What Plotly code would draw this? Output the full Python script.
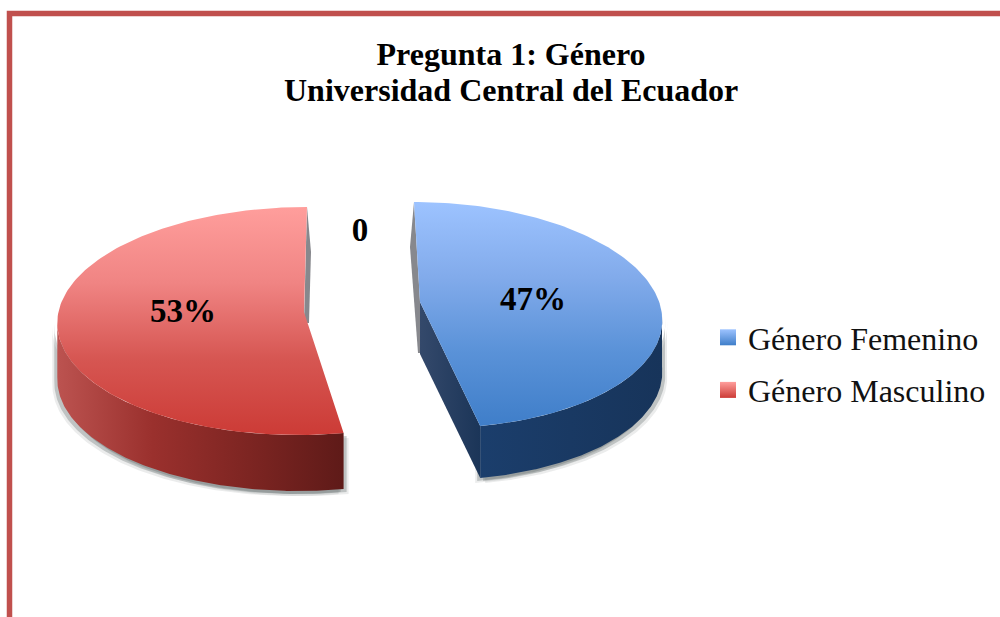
import numpy as np
import plotly.graph_objects as go

TITLE_LINES = ["Pregunta 1: Género", "Universidad Central del Ecuador"]
categories = ["Género Femenino", "Género Masculino"]
values = [47, 53]
zero_label = "0"

FONT = "Liberation Serif"
total = sum(values)
sweeps = [v / total * 2 * np.pi for v in values]

# projection of the tilted, exploded slices
blue = dict(ex=425, ey=315, rx=237, ry=113, sh=-11, apex=(420, 302), depth=52,
            t0=0.0, t1=sweeps[0], back=(-4, 45, -2, 51), back_at=0.0)
red = dict(ex=302.3, ey=321, rx=245, ry=114, sh=4.7, apex=(304, 312), depth=56,
           t0=sweeps[0], t1=sweeps[0] + sweeps[1], back=(4, 45, 5, 11), back_at=2 * np.pi)


def rim(s, a, b, n=160):
    t = np.linspace(a, b, n)
    x = s["ex"] + s["rx"] * np.sin(t) + s["sh"] * np.cos(t)
    y = s["ey"] - s["ry"] * np.cos(t)
    return x, y


def poly(x, y, **kw):
    return go.Scatter(x=list(x), y=list(y), mode="lines", fill="toself",
                      line=dict(width=0), hoverinfo="skip", showlegend=False, **kw)


def grad(kind, start, stop, stops):
    n = len(stops) - 1
    return dict(type=kind, start=start, stop=stop,
                colorscale=[[i / n, c] for i, c in enumerate(stops)])


def slice_traces(s, top, wall, wall_lo, wall_hi, wall_a, wall_b, cut=None):
    out = []
    d = s["depth"]
    ax, ay = s["apex"]
    # soft ground shadow
    wx, wy = rim(s, wall_a, wall_b)
    for dx, dy, alpha in [(-5, 5, .12), (5, 5, .12), (-3, 3, .3), (3, 3, .3)]:
        out.append(poly(np.r_[wx, wx[::-1]] + dx, np.r_[wy, wy[::-1] + d] + dy,
                        fillcolor=f"rgba(90,100,100,{alpha})"))
    # side of the far edge, seen as a grey drop
    sx, sy = rim(s, s["back_at"], s["back_at"], 1)
    dxt, dt, dxb, db = s["back"]
    out.append(poly([sx[0], ax, ax, ax + dxb, sx[0] + dxt],
                    [sy[0], ay, ay + db, ay + db, sy[0] + dt],
                    fillcolor="rgba(70,72,80,.65)"))
    # outer wall
    out.append(poly(np.r_[wx, wx[::-1]], np.r_[wy, wy[::-1] + d],
                    fillgradient=grad("horizontal", wall_lo, wall_hi, wall)))
    # cut face
    if cut:
        ex_, ey_ = rim(s, s["t1"], s["t1"], 1)
        out.append(poly([ax, ex_[0], ex_[0], ax], [ay, ey_[0], ey_[0] + d, ay + d],
                        fillgradient=grad("horizontal", ax, ex_[0], cut)))
    # top face
    tx, ty = rim(s, s["t0"], s["t1"])
    out.append(poly(np.r_[ax, tx, ax], np.r_[ay, ty, ay],
                    fillgradient=grad("vertical", ty.min(), ty.max(), top)))
    return out


fig = go.Figure()
for tr in slice_traces(blue, ["#9DC3FF", "#82ABEB", "#5A92D8", "#3F7EC9"],
                       ["#1B3E6C", "#17345A"], 480, 662,
                       np.pi / 2, sweeps[0],
                       cut=["#34496B", "#1B3558"]):
    fig.add_trace(tr)
for tr in slice_traces(red, ["#FF9E9C", "#F08483", "#D65652", "#CC3B36"],
                       ["#BC5350", "#9A302D", "#7D2522", "#5E1A18"], 57, 345,
                       sweeps[0], 1.5 * np.pi):
    fig.add_trace(tr)

# data labels
for v, pos in [(values[1], (183, 314)), (values[0], (533, 302))]:
    fig.add_trace(go.Scatter(x=[pos[0]], y=[pos[1]], mode="text", text=[f"{v / total:.0%}"],
                             textfont=dict(family=FONT, size=33, color="black"),
                             texttemplate="<b>%{text}</b>", hoverinfo="skip", showlegend=False))
fig.add_trace(go.Scatter(x=[360], y=[233], mode="text", text=[zero_label],
                         textfont=dict(family=FONT, size=33, color="black"),
                         texttemplate="<b>%{text}</b>", hoverinfo="skip", showlegend=False))

# legend
for name, c0, c1 in [(categories[0], "#3F7EC9", "#9DC3FF"), (categories[1], "#CC3B36", "#FF9E9C")]:
    fig.add_trace(go.Scatter(x=[None], y=[None], mode="markers", name=name, legendgroup=name,
                             marker=dict(symbol="square", size=16, color=c1,
                                         gradient=dict(type="vertical", color=c0))))

fig.update_layout(
    width=1000, height=617, margin=dict(l=0, r=0, t=0, b=0),
    paper_bgcolor="white", plot_bgcolor="white",
    xaxis=dict(range=[0, 1000], visible=False, fixedrange=True),
    yaxis=dict(range=[617, 0], visible=False, fixedrange=True),
    title=dict(text="<b>" + TITLE_LINES[0] + "</b>", x=0.511, xanchor="center",
               y=1 - 54 / 617, yanchor="middle", font=dict(family=FONT, size=32, color="black")),
    annotations=[dict(text="<b>" + TITLE_LINES[1] + "</b>", xref="paper", yref="paper",
                      x=0.511, y=1 - 90 / 617, xanchor="center", yanchor="middle",
                      showarrow=False, font=dict(family=FONT, size=32, color="black"))],
    legend=dict(x=0.708, xanchor="left", y=1 - 310 / 617, yanchor="top", traceorder="grouped",
                tracegroupgap=8, bgcolor="rgba(0,0,0,0)", itemclick=False,
                font=dict(family=FONT, size=32, color="#111111")),
    shapes=[dict(type="rect", xref="x", yref="y", x0=9.5, y0=13.5, x1=1040, y1=700,
                 line=dict(color="#C0504D", width=5.5), fillcolor="rgba(0,0,0,0)", layer="below")],
)
fig.write_html("out.html", config={"displayModeBar": False},
               post_script="document.body.style.margin='0';document.body.style.overflow='hidden';")
